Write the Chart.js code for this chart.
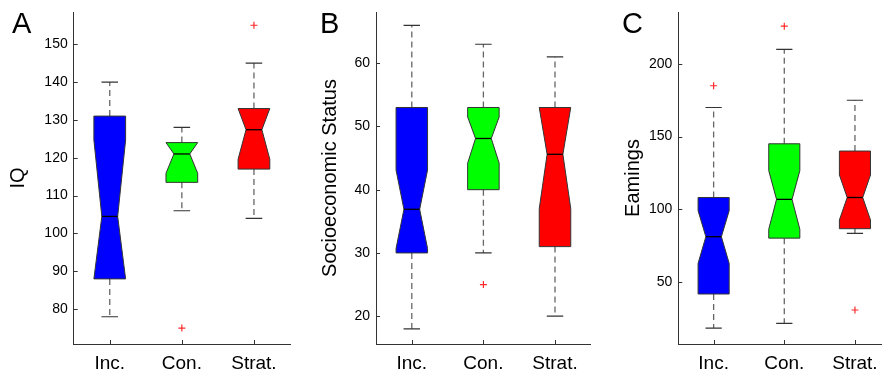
<!DOCTYPE html>
<html><head><meta charset="utf-8">
<script src="https://cdn.jsdelivr.net/npm/chart.js@4"></script>
<style>
html,body{margin:0;padding:0;background:#fff;width:887px;height:372px;overflow:hidden}
.panel{position:absolute;top:0;height:372px}
.letter{position:absolute;top:9px;font-family:Arial,"Liberation Sans",Helvetica,sans-serif;font-size:29px;line-height:29px;color:#000}
canvas{display:block}
</style></head><body>
<div class="panel" style="left:0;width:296px"><canvas id="cA" width="296" height="372"></canvas></div>
<div class="panel" style="left:296px;width:300px"><canvas id="cB" width="300" height="372"></canvas></div>
<div class="panel" style="left:596px;width:291px"><canvas id="cC" width="291" height="372"></canvas></div>
<div class="letter" style="left:12px">A</div>
<div class="letter" style="left:320px">B</div>
<div class="letter" style="left:622px">C</div>
<script>
const categories = ['Inc.', 'Con.', 'Strat.'];
const boxColors = ['#0000ff', '#00ff00', '#ff0000'];

// Panel A – IQ
const iqLow       = [78, 106, 104];
const iqQ1        = [88, 113.5, 117];
const iqNotchLow  = [84.3, 115.9, 119.6];
const iqMedian    = [104.5, 121, 127.4];
const iqNotchHigh = [124.7, 126.1, 135.2];
const iqQ3        = [131, 124, 133];
const iqHigh      = [140, 128, 145];
const iqOutliers  = [[], [75], [155]];
const iqTicks     = [80, 90, 100, 110, 120, 130, 140, 150];

// Panel B – Socioeconomic Status
const sesLow       = [18, 30, 20];
const sesQ1        = [30, 40, 31];
const sesNotchLow  = [30.7, 44.2, 37.0];
const sesMedian    = [36.9, 48.1, 45.6];
const sesNotchHigh = [43.1, 51.5, 54.2];
const sesQ3        = [53, 53, 53];
const sesHigh      = [66, 63, 61];
const sesOutliers  = [[], [25], []];
const sesTicks     = [20, 30, 40, 50, 60];

// Panel C – Earnings
const earnLow       = [18, 21.3, 83.3];
const earnQ1        = [41.5, 80, 86.5];
const earnNotchLow  = [62.6, 86.1, 92.5];
const earnMedian    = [81, 106.7, 108];
const earnNotchHigh = [98.9, 126.5, 123.5];
const earnQ3        = [108, 145, 140];
const earnHigh      = [170, 210, 175];
const earnOutliers  = [[185], [226], [30.5]];
const earnTicks     = [50, 100, 150, 200];

const FONT = 'Arial, "Liberation Sans", Helvetica, sans-serif';
const BOX_HALF = 0.22, CAP_HALF = 0.115, NOTCH_FRAC = 0.5;

function makeBoxPlugin(s) {
  return {
    id: 'notchBox',
    afterDatasetsDraw(chart) {
      const xs = chart.scales.x, ys = chart.scales.y, ctx = chart.ctx;
      const Y = v => ys.getPixelForValue(v);
      ctx.save();
      s.median.forEach((med, i) => {
        const cx = xs.getPixelForValue(i + 1);
        const hw = xs.getPixelForValue(i + 1 + BOX_HALF) - cx;
        const cw = xs.getPixelForValue(i + 1 + CAP_HALF) - cx;
        // dashed whiskers
        ctx.setLineDash([6, 4]);
        ctx.strokeStyle = '#666'; ctx.lineWidth = 1.3;
        ctx.beginPath();
        ctx.moveTo(cx, Y(s.q3[i])); ctx.lineTo(cx, Y(s.high[i]));
        ctx.moveTo(cx, Y(s.q1[i])); ctx.lineTo(cx, Y(s.low[i]));
        ctx.stroke();
        // caps
        ctx.setLineDash([]);
        ctx.strokeStyle = '#333'; ctx.lineWidth = 1.2;
        ctx.beginPath();
        ctx.moveTo(cx - cw, Y(s.high[i])); ctx.lineTo(cx + cw, Y(s.high[i]));
        ctx.moveTo(cx - cw, Y(s.low[i])); ctx.lineTo(cx + cw, Y(s.low[i]));
        ctx.stroke();
        // notched box
        const q1 = s.q1[i], q3 = s.q3[i];
        const nlo = Math.max(s.notchLow[i], q1), nhi = Math.min(s.notchHigh[i], q3);
        const nw = hw * NOTCH_FRAC;
        const pts = [[-hw, q1], [-hw, nlo], [-nw, med], [-hw, nhi], [-hw, q3],
                     [hw, q3], [hw, nhi], [nw, med], [hw, nlo], [hw, q1]];
        ctx.beginPath();
        pts.forEach(([dx, v], k) => k ? ctx.lineTo(cx + dx, Y(v)) : ctx.moveTo(cx + dx, Y(v)));
        ctx.closePath();
        ctx.fillStyle = s.colors[i]; ctx.fill();
        ctx.strokeStyle = '#333'; ctx.lineWidth = 1; ctx.stroke();
        // median
        ctx.beginPath();
        ctx.moveTo(cx - nw, Y(med)); ctx.lineTo(cx + nw, Y(med));
        ctx.strokeStyle = '#000'; ctx.lineWidth = 1.3; ctx.stroke();
      });
      ctx.restore();
    }
  };
}

const inwardTicks = {
  id: 'inwardTicks',
  afterDraw(chart) {
    const {ctx, chartArea: a, scales: {x, y}} = chart;
    ctx.save();
    ctx.strokeStyle = '#333'; ctx.lineWidth = 1;
    ctx.beginPath();
    y.ticks.forEach(t => {
      const py = Math.round(y.getPixelForValue(t.value)) + 0.5;
      ctx.moveTo(a.left, py); ctx.lineTo(a.left + 4, py);
    });
    x.ticks.forEach(t => {
      const px = Math.round(x.getPixelForValue(t.value)) + 0.5;
      ctx.moveTo(px, a.bottom); ctx.lineTo(px, a.bottom - 4);
    });
    ctx.stroke();
    ctx.restore();
  }
};

function makePanel(id, stats, outliers, ticks, yMin, yMax, xMax, title, yWidth, titlePad, padRight) {
  const pts = outliers.flatMap((arr, i) => arr.map(v => ({x: i + 1, y: v})));
  new Chart(document.getElementById(id), {
    type: 'scatter',
    data: {datasets: [{data: pts, pointStyle: 'cross', radius: 3.5, borderColor: '#ff2a2a',
                       backgroundColor: '#ff2a2a', borderWidth: 1.2}]},
    options: {
      responsive: false, animation: false, events: [],
      layout: {padding: {left: 0, top: 12, right: padRight, bottom: 0}},
      plugins: {legend: {display: false}, tooltip: {enabled: false}},
      scales: {
        x: {
          type: 'linear', min: 0.5, max: xMax,
          grid: {display: false, drawTicks: false},
          border: {display: true, color: '#333', width: 1},
          afterBuildTicks: s => { s.ticks = categories.map((c, i) => ({value: i + 1})); },
          ticks: {padding: 8, color: '#000', font: {family: FONT, size: 19},
                  autoSkip: false, maxRotation: 0,
                  callback: (v, i) => categories[i]},
          afterFit: s => { s.height = 28; s.paddingLeft = 0; s.paddingRight = 0; }
        },
        y: {
          min: yMin, max: yMax,
          grid: {display: false, drawTicks: false},
          border: {display: true, color: '#333', width: 1},
          afterBuildTicks: s => { s.ticks = ticks.map(v => ({value: v})); },
          ticks: {padding: 6, color: '#000', font: {family: FONT, size: 14}},
          title: {display: true, text: title, color: '#000', font: {family: FONT, size: 20},
                  padding: {top: titlePad, bottom: 0}},
          afterFit: s => { s.width = yWidth; s.paddingTop = 0; s.paddingBottom = 0; }
        }
      }
    },
    plugins: [makeBoxPlugin(stats), inwardTicks]
  });
}

makePanel('cA',
  {low: iqLow, q1: iqQ1, notchLow: iqNotchLow, median: iqMedian, notchHigh: iqNotchHigh, q3: iqQ3, high: iqHigh, colors: boxColors},
  iqOutliers, iqTicks, 70.8, 158.5, 3.5, 'IQ', 73.7, 6.7, 6);
makePanel('cB',
  {low: sesLow, q1: sesQ1, notchLow: sesNotchLow, median: sesMedian, notchHigh: sesNotchHigh, q3: sesQ3, high: sesHigh, colors: boxColors},
  sesOutliers, sesTicks, 15.6, 68.1, 3.5, 'Socioeconomic Status', 80, 22.8, 4);
makePanel('cC',
  {low: earnLow, q1: earnQ1, notchLow: earnNotchLow, median: earnMedian, notchHigh: earnNotchHigh, q3: earnQ3, high: earnHigh, colors: boxColors},
  earnOutliers, earnTicks, 7.06, 235.8, 3.38, 'Eamings', 82.3, 25.3, 0);
</script>
</body></html>
